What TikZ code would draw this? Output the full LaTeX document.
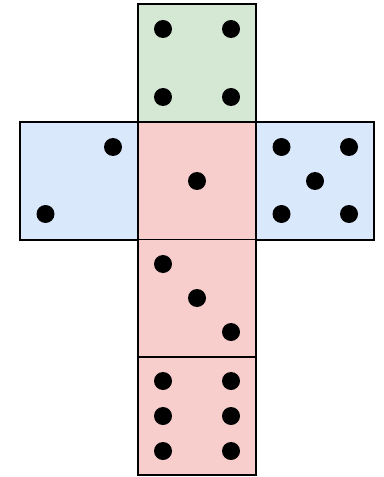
\documentclass[tikz,border=0pt]{standalone}
\usetikzlibrary{positioning}
\definecolor{fgreen}{HTML}{D5E8D4}
\definecolor{fblue}{HTML}{DAE8FC}
\definecolor{fred}{HTML}{F8CECC}
\begin{document}
\begin{tikzpicture}[x=0.75pt,y=-0.75pt,
  face/.style={draw=black,line width=1.1pt,minimum width=88.5pt,minimum height=88.3pt,inner sep=0pt,outer sep=0pt},
  pip/.style={circle,fill=black,minimum size=13.5pt,inner sep=0pt}]
\useasboundingbox (0,0) rectangle (383,477);
\node[face,fill=fgreen] (top) at (197,63) {};
\node[face,fill=fblue] (left) at (79,181) {};
\node[face,fill=fblue] (right) at (315,181) {};
\node[face,fill=fred] (mid) at (197,181) {};
\node[face,fill=fred] (low) at (197,298.5) {};
\node[face,fill=fred] (bot) at (197,416) {};
% top: four
\node[pip] (t1) at (163,29) {};
\node[pip] (t2) at (231,29) {};
\node[pip] (t3) at (163,97) {};
\node[pip] (t4) at (231,97) {};
% left: two
\node[pip] (l1) at (113,147) {};
\node[pip] (l2) at (45.5,214) {};
% mid: one
\node[pip] (m1) at (197,181) {};
% right: five
\node[pip] (r1) at (281.5,147) {};
\node[pip] (r2) at (349,147) {};
\node[pip] (r3) at (315,181) {};
\node[pip] (r4) at (281.5,214) {};
\node[pip] (r5) at (349,214) {};
% low: three
\node[pip] (w1) at (163,264) {};
\node[pip] (w2) at (197,298) {};
\node[pip] (w3) at (231,332) {};
% bottom: six
\node[pip] (b1) at (163,381) {};
\node[pip] (b2) at (231,381) {};
\node[pip] (b3) at (163,416) {};
\node[pip] (b4) at (231,416) {};
\node[pip] (b5) at (163,451) {};
\node[pip] (b6) at (231,451) {};
\end{tikzpicture}
\end{document}
